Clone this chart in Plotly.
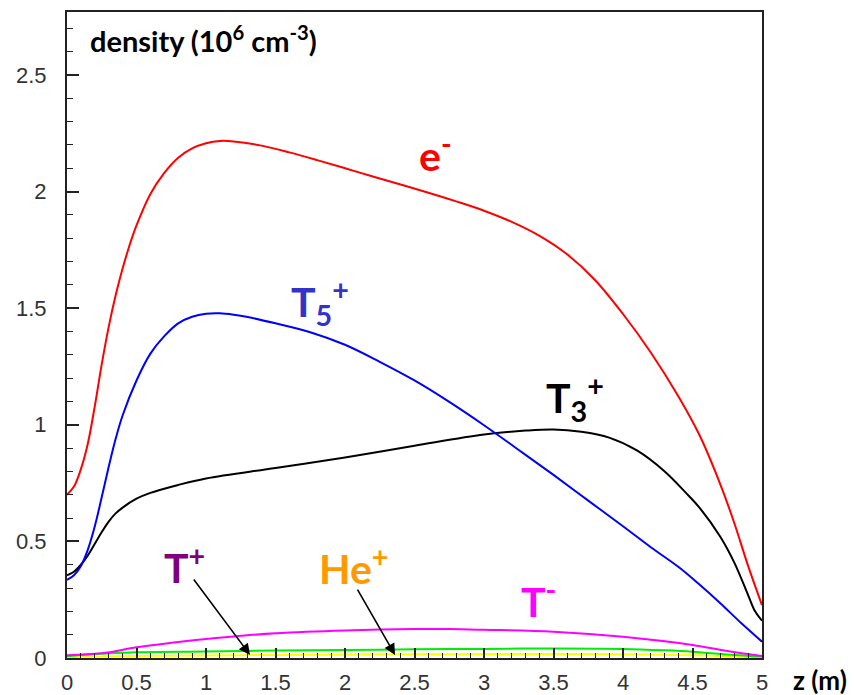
import plotly.graph_objects as go

# ---- data (z in m, density in 1e6 cm^-3) ----
z_e = [0, 0.05, 0.1, 0.15, 0.2, 0.25, 0.3, 0.35, 0.4, 0.45, 0.5, 0.6, 0.7, 0.8, 0.9, 1.0, 1.1, 1.2, 1.4, 1.6, 1.8,
       2.0, 2.2, 2.4, 2.6, 2.8, 3.0, 3.2, 3.4, 3.6, 3.8, 4.0, 4.2, 4.4, 4.55, 4.7, 4.8, 4.9, 5.0]
n_e = [0.70, 0.735, 0.81, 0.92, 1.08, 1.26, 1.42, 1.555, 1.67, 1.77, 1.855, 1.99, 2.08, 2.145, 2.185, 2.207, 2.217, 2.215,
       2.197, 2.168, 2.135, 2.10, 2.065, 2.03, 1.995, 1.958, 1.918, 1.87, 1.81, 1.73, 1.62, 1.475, 1.31, 1.12, 0.956, 0.745,
       0.58, 0.395, 0.227]

z_t5 = [0, 0.05, 0.1, 0.15, 0.2, 0.25, 0.3, 0.35, 0.4, 0.5, 0.6, 0.7, 0.8, 0.9, 1.0, 1.1, 1.2, 1.3, 1.5, 1.75, 2.0,
        2.25, 2.5, 2.75, 3.0, 3.25, 3.5, 3.75, 4.0, 4.2, 4.4, 4.55, 4.7, 4.85, 5.0]
n_t5 = [0.335, 0.355, 0.395, 0.465, 0.565, 0.69, 0.82, 0.94, 1.04, 1.19, 1.305, 1.38, 1.435, 1.463, 1.476, 1.478, 1.472,
        1.462, 1.435, 1.397, 1.343, 1.27, 1.19, 1.098, 0.998, 0.892, 0.785, 0.675, 0.565, 0.475, 0.39, 0.315, 0.235,
        0.15, 0.07]

z_t3 = [0, 0.05, 0.1, 0.15, 0.2, 0.25, 0.3, 0.35, 0.4, 0.5, 0.6, 0.8, 1.0, 1.5, 2.0, 2.5, 3.0, 3.3, 3.5, 3.7, 3.9,
        4.1, 4.3, 4.45, 4.55, 4.7, 4.8, 4.9, 4.95, 5.0]
n_t3 = [0.355, 0.37, 0.40, 0.44, 0.49, 0.54, 0.585, 0.62, 0.645, 0.683, 0.708, 0.742, 0.77, 0.815, 0.86, 0.91, 0.958,
        0.975, 0.98, 0.97, 0.945, 0.89, 0.80, 0.71, 0.645, 0.52, 0.41, 0.27, 0.20, 0.16]

z_tm = [0, 0.25, 0.5, 0.75, 1.0, 1.25, 1.5, 2.0, 2.5, 2.75, 3.0, 3.5, 4.0, 4.5, 4.75, 5.0]
n_tm = [0.012, 0.02, 0.046, 0.065, 0.081, 0.095, 0.106, 0.118, 0.124, 0.124, 0.121, 0.113, 0.091, 0.056, 0.03, 0.008]

z_g = [0, 0.2, 0.5, 1.0, 1.5, 2.0, 2.5, 3.0, 3.5, 4.0, 4.3, 4.5, 4.8, 5.0]
n_g = [0.008, 0.017, 0.025, 0.028, 0.032, 0.034, 0.037, 0.039, 0.041, 0.039, 0.033, 0.027, 0.013, 0.006]

z_y = [0, 0.5, 1.0, 1.5, 2.0, 2.5, 3.0, 3.5, 4.0, 4.5, 4.8, 5.0]
n_y = [0.005, 0.009, 0.011, 0.013, 0.015, 0.016, 0.017, 0.017, 0.016, 0.012, 0.007, 0.003]

x_ticks = [0, 0.5, 1, 1.5, 2, 2.5, 3, 3.5, 4, 4.5, 5]
x_tick_text = ["0", "0.5", "1", "1.5", "2", "2.5", "3", "3.5", "4", "4.5", "5"]
y_ticks = [0, 0.5, 1, 1.5, 2, 2.5]
y_tick_text = ["0", "0.5", "1", "1.5", "2", "2.5"]

series = [
    (z_y, n_y, "#ffff00"),
    (z_g, n_g, "#00ee00"),
    (z_tm, n_tm, "#ff00ff"),
    (z_t3, n_t3, "#000000"),
    (z_t5, n_t5, "#0000ff"),
    (z_e, n_e, "#ff0000"),
]

fig = go.Figure()
for zs, ns, col in series:
    fig.add_trace(go.Scatter(x=zs, y=ns, mode="lines", line=dict(color=col, width=2, shape="spline", smoothing=1.0),
                             showlegend=False, hoverinfo="skip"))

LBL = "Lato"
labels = [
    ("e<sup>-</sup>", 2.518, 2.165, "#ff0000"),
    ("T<sub>5</sub><sup>+</sup>", 1.595, 1.525, "#3333cc"),
    ("T<sub>3</sub><sup>+</sup>", 3.43, 1.115, "#000000"),
    ("T<sup>+</sup>", 0.685, 0.40, "#800080"),
    ("He<sup>+</sup>", 1.80, 0.395, "#ff9900"),
    ("T<sup>-</sup>", 3.25, 0.255, "#ff00ff"),
]
for txt, x, y, col in labels:
    fig.add_annotation(x=x, y=y, xref="x", yref="y", text="<b>" + txt + "</b>", showarrow=False,
                       xanchor="left", yanchor="middle", font=dict(family=LBL, size=41, color=col))

arrows = [(1.317, 0.013, 0.904, 0.343), (2.36, 0.013, 2.084, 0.30)]
for hx, hy, tx, ty in arrows:
    fig.add_annotation(x=hx, y=hy, ax=tx, ay=ty, xref="x", yref="y", axref="x", ayref="y", text="",
                       showarrow=True, arrowhead=2, arrowsize=1.4, arrowwidth=1.6, arrowcolor="black")

fig.add_annotation(x=0.03, y=0.99, xref="paper", yref="paper",
                   text="<b>density (10<sup>6</sup> cm<sup>-3</sup>)</b>", showarrow=False,
                   xanchor="left", yanchor="top", font=dict(family=LBL, size=29, color="black"))
fig.add_annotation(x=1.042, y=0.0, xref="paper", yref="paper", text="<b>z (m)</b>", showarrow=False,
                   xanchor="left", yanchor="middle", yshift=-22, font=dict(family=LBL, size=26, color="black"))

tickfont = dict(family="Liberation Sans", size=22, color="#333")
fig.update_xaxes(range=[0, 5], tickvals=x_ticks, ticktext=x_tick_text, ticks="inside", ticklen=10, tickwidth=1.5,
                 tickcolor="#222", showline=True, linecolor="#222", linewidth=2, mirror=True, showgrid=False,
                 zeroline=False, tickfont=tickfont, automargin=False, ticklabelstandoff=4,
                 minor=dict(dtick=0.1, tick0=0, ticks="inside", ticklen=5, tickwidth=1, tickcolor="#222"))
fig.update_yaxes(range=[0, 2.77], tickvals=y_ticks, ticktext=y_tick_text, ticks="inside", ticklen=12, tickwidth=1.5,
                 tickcolor="#222", showline=True, linecolor="#222", linewidth=2, mirror=True, showgrid=False,
                 zeroline=False, tickfont=tickfont, ticklabelstandoff=14, automargin=False,
                 minor=dict(dtick=0.1, tick0=0, ticks="inside", ticklen=6, tickwidth=1, tickcolor="#222"))

fig.update_layout(width=854, height=695, margin=dict(l=67, r=92, t=12, b=37),
                  plot_bgcolor="white", paper_bgcolor="white")

fig.write_html("out.html")
